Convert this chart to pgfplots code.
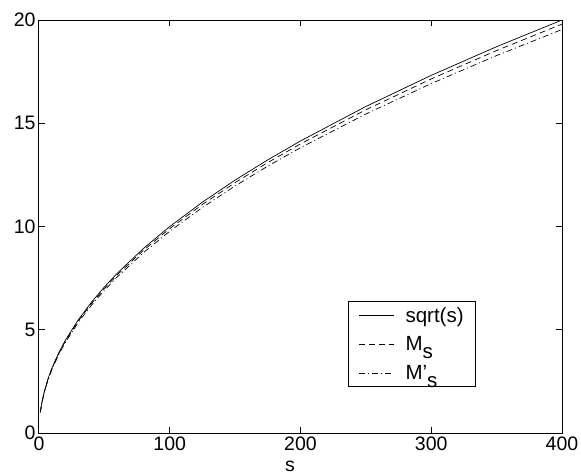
\documentclass[border=0pt]{standalone}
\usepackage{pgfplots}
\pgfplotsset{compat=1.18}
\usepackage{fontspec}
\setmainfont{Liberation Sans}

\begin{document}
\begin{tikzpicture}
% page the size of the reference, axis box placed as there
\useasboundingbox (-39pt,-42pt) rectangle (542pt,433pt);
\begin{axis}[
    at={(0pt,0pt)}, anchor=south west,
    scale only axis,
    width=523pt, height=413pt,
    xmin=0, xmax=400, ymin=0, ymax=20,
    xtick={0,100,200,300,400},
    ytick={0,5,10,15,20},
    tick align=inside,
    tick pos=both,
    tickwidth=6pt,
    axis line style={line width=1pt},
    every tick/.style={line width=1pt, black},
    every tick label/.style={font=\fontsize{19.5}{22}\selectfont},
    /pgf/number format/assume math mode=true,
    xlabel={s},
    xlabel style={font=\fontsize{19.5}{22}\selectfont, at={(0.48,0)},
        anchor=north, yshift=-24pt},
    legend style={at={(0.8356,0.111)}, anchor=south east, draw=black,
        line width=0.8pt, font=\fontsize{20.5}{23}\selectfont,
        cells={anchor=west}, row sep=9pt, inner xsep=10pt, inner ysep=4pt},
    legend image code/.code={\draw[#1] (0pt,0pt) -- (35pt,0pt);},
    legend cell align=left,
]
\addplot[black, line width=0.7pt] coordinates {
(1,1) (2,1.4142) (4,2) (7,2.6458) (10,3.1623) (15,3.8730) (20,4.4721)
(30,5.4772) (40,6.3246) (50,7.0711) (60,7.7460) (80,8.9443) (100,10)
(125,11.1803) (150,12.2474) (175,13.2288) (200,14.1421) (250,15.8114)
(300,17.3205) (350,18.7083) (400,20)
};
\addlegendentry{\hspace*{9pt}sqrt(s)}
\addplot[black, line width=0.7pt, dash pattern=on 6pt off 4pt] coordinates {
(1,1) (2,1.400) (4,1.98) (7,2.619) (10,3.131) (15,3.834) (20,4.427)
(30,5.422) (40,6.261) (50,7.000) (60,7.668) (80,8.855) (100,9.90)
(125,11.068) (150,12.125) (175,13.097) (200,14.001) (250,15.653)
(300,17.147) (350,18.521) (400,19.80)
};
\addlegendentry{\hspace*{9pt}M\raisebox{-8pt}{s}}
\addplot[black, line width=0.7pt, dash pattern=on 6pt off 3pt on 1pt off 3pt] coordinates {
(1,1) (2,1.3817) (4,1.954) (7,2.585) (10,3.090) (15,3.784) (20,4.369)
(30,5.351) (40,6.179) (50,6.908) (60,7.568) (80,8.739) (100,9.77)
(125,10.923) (150,11.966) (175,12.925) (200,13.817) (250,15.448)
(300,16.922) (350,18.278) (400,19.54)
};
\addlegendentry{\hspace*{9pt}M’\raisebox{-8pt}{s}}
\end{axis}
\end{tikzpicture}
\end{document}
